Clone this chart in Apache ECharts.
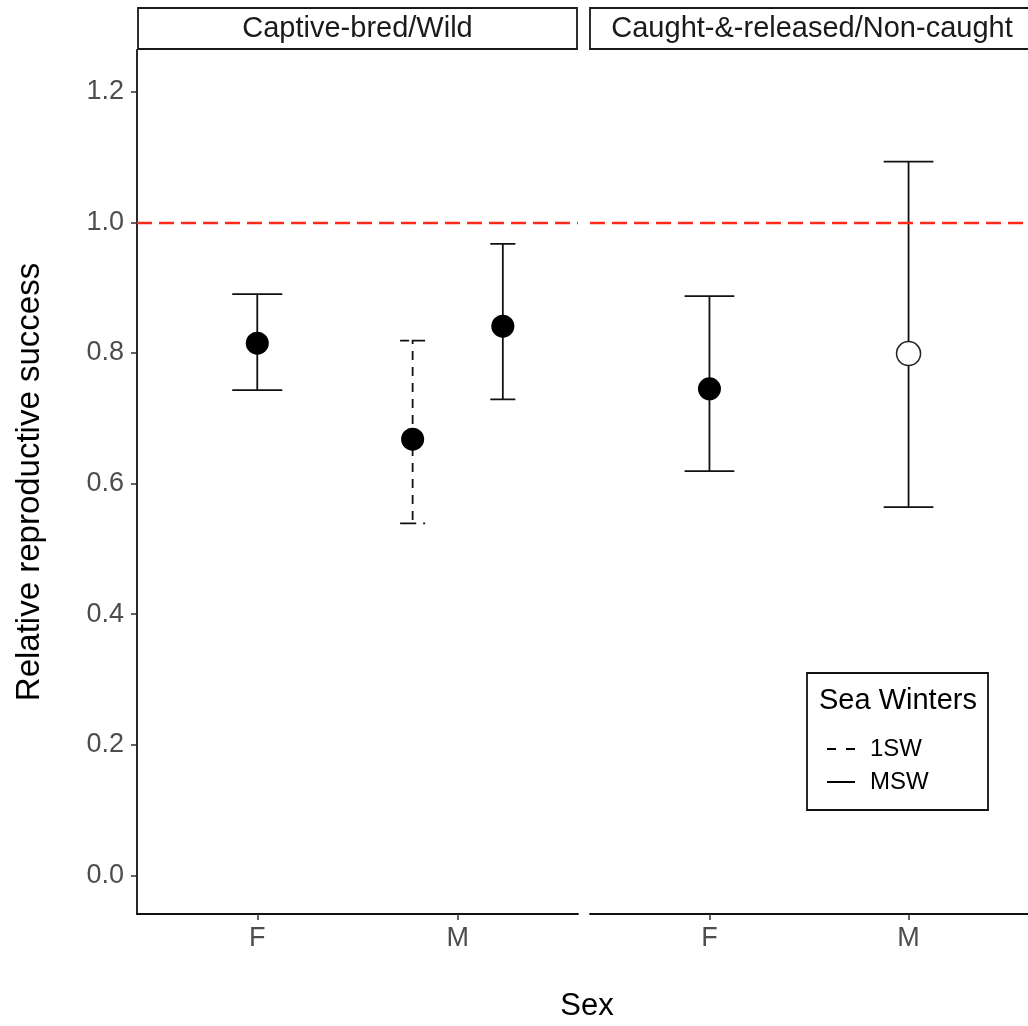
<!DOCTYPE html>
<html>
<head>
<meta charset="utf-8">
<script src="https://cdn.jsdelivr.net/npm/echarts@6/dist/echarts.min.js"></script>
<style>html,body{margin:0;padding:0;background:#fff}#c{width:1028px;height:1026px}</style>
</head>
<body>
<div id="c"></div>
<script>
// ---- data ----
const panels = ['Captive-bred/Wild', 'Caught-&-released/Non-caught'];
const sexes = ['F', 'M'];
const yTicks = [0, 0.2, 0.4, 0.6, 0.8, 1.0, 1.2];
const seaWinterLevels = ['1SW', 'MSW'];
const rowPanel = [0, 0, 0, 1, 1];
const rowSex = ['F', 'M', 'M', 'F', 'M'];
const rowSeaWinters = ['MSW', '1SW', 'MSW', 'MSW', 'MSW'];
const estimate = [0.815, 0.668, 0.841, 0.745, 0.799];
const lower = [0.743, 0.539, 0.729, 0.619, 0.564];
const upper = [0.890, 0.819, 0.967, 0.887, 1.093];
const filled = [true, true, true, true, false];
const referenceLine = 1.0;

// ---- layout helpers ----
const FONT = 'Liberation Sans, Arial, Helvetica, sans-serif';
const CAP = 0.25;
function rowsOf(p) { return estimate.map((_, i) => i).filter(i => rowPanel[i] === p); }
function dodgeX(i) {
  const base = sexes.indexOf(rowSex[i]) + 1;
  const groups = rowsOf(rowPanel[i]).filter(j => rowSex[j] === rowSex[i]).map(j => rowSeaWinters[j]);
  const n = groups.length;
  if (n < 2) return { x: base, w: CAP };
  const k = groups.indexOf(rowSeaWinters[i]);
  const width = 0.9;
  return { x: base - width / 2 + width / n * (k + 0.5), w: CAP / n };
}

function errRender(params, api) {
  const x = api.value(0), lo = api.value(1), hi = api.value(2), hw = api.value(3) / 2;
  const dashed = api.value(4) === 1;
  const a = api.coord([x - hw, hi]), b = api.coord([x + hw, hi]);
  const c = api.coord([x, hi]), d = api.coord([x, lo]);
  const e = api.coord([x - hw, lo]), f = api.coord([x + hw, lo]);
  return {
    type: 'polyline',
    shape: { points: [a, b, c, d, e, f] },
    style: { stroke: '#111', lineWidth: 1.8, fill: null, lineDash: dashed ? [9, 7] : null }
  };
}

const series = [];
panels.forEach((p, pi) => {
  series.push({
    type: 'line', xAxisIndex: pi, yAxisIndex: pi, data: [], z: 1, silent: true,
    markLine: { silent: true, symbol: 'none', label: { show: false }, animation: false,
      lineStyle: { color: '#FF2A1A', width: 2.4, type: [15, 7], opacity: 1 }, data: [{ yAxis: referenceLine }] }
  });
  seaWinterLevels.forEach(sw => {
    const idx = rowsOf(pi).filter(i => rowSeaWinters[i] === sw);
    if (!idx.length) return;
    series.push({
      type: 'custom', name: sw, xAxisIndex: pi, yAxisIndex: pi, z: 2,
      renderItem: errRender,
      dimensions: ['x', 'lo', 'hi', 'w', 'dash'],
      encode: { x: 0, y: [1, 2] },
      data: idx.map(i => { const d = dodgeX(i); return [d.x, lower[i], upper[i], d.w, sw === '1SW' ? 1 : 0]; })
    });
  });
  series.push({
    type: 'scatter', xAxisIndex: pi, yAxisIndex: pi, z: 3, symbol: 'circle',
    data: rowsOf(pi).map(i => ({
      value: [dodgeX(i).x, estimate[i]],
      symbolSize: filled[i] ? 23 : 24,
      itemStyle: filled[i] ? { color: '#000', opacity: 1 } : { color: '#fff', borderColor: '#222', borderWidth: 1.5, opacity: 1 }
    }))
  });
});

function xAxisCfg(i) {
  return {
    type: 'value', gridIndex: i, min: 0.4, max: 2.6,
    axisLine: { show: true, onZero: false, lineStyle: { color: '#111', width: 1.8 } },
    axisTick: { show: true, customValues: [1, 2], length: 6, lineStyle: { color: '#333', width: 1.5 } },
    axisLabel: { customValues: [1, 2], formatter: v => sexes[Math.round(v) - 1], color: '#4D4D4D', fontSize: 27, fontFamily: FONT, margin: 11 },
    splitLine: { show: false }
  };
}
function yAxisCfg(i) {
  const show = i === 0;
  return {
    type: 'value', gridIndex: i, min: -0.0593, max: 1.264,
    axisLine: { show: show, onZero: false, lineStyle: { color: '#111', width: 1.8 } },
    axisTick: { show: show, customValues: yTicks, length: 6, lineStyle: { color: '#333', width: 1.5 } },
    axisLabel: { show: show, customValues: yTicks, formatter: v => v.toFixed(1), color: '#4D4D4D', fontSize: 27, fontFamily: FONT, margin: 13 },
    splitLine: { show: false },
    name: show ? 'Relative reproductive success' : '',
    nameLocation: 'middle', nameGap: 91,
    nameTextStyle: { fontSize: 33, color: '#000', fontFamily: FONT }
  };
}

const graphic = [];
const stripX = [[138, 577], [590, 1034]];
panels.forEach((p, pi) => {
  graphic.push({ type: 'rect', z: 5, shape: { x: stripX[pi][0], y: 8, width: stripX[pi][1] - stripX[pi][0], height: 41 },
    style: { fill: '#fff', stroke: '#1a1a1a', lineWidth: 1.8 } });
  graphic.push({ type: 'text', z: 6, x: (stripX[pi][0] + stripX[pi][1]) / 2, y: 29,
    style: { text: p, fontSize: 29, fontFamily: FONT, fill: '#1a1a1a', align: 'center', verticalAlign: 'middle' } });
});
graphic.push({ type: 'text', z: 6, x: 587, y: 1006,
  style: { text: 'Sex', fontSize: 31, fontFamily: FONT, fill: '#000', align: 'center', verticalAlign: 'middle' } });
graphic.push({ type: 'rect', z: 0, shape: { x: 807, y: 673, width: 181, height: 137 },
  style: { fill: '#fff', stroke: '#111', lineWidth: 1.8 } });
graphic.push({ type: 'text', z: 6, x: 819, y: 701,
  style: { text: 'Sea Winters', fontSize: 29, fontFamily: FONT, fill: '#000', align: 'left', verticalAlign: 'middle' } });

const option = {
  animation: false,
  backgroundColor: '#fff',
  grid: [
    { left: 137, top: 50, width: 441, height: 864 },
    { left: 590, top: 50, width: 441, height: 864 }
  ],
  xAxis: [xAxisCfg(0), xAxisCfg(1)],
  yAxis: [yAxisCfg(0), yAxisCfg(1)],
  legend: {
    orient: 'vertical', left: 822, top: 732, itemWidth: 28, itemHeight: 2, itemGap: 9,
    selectedMode: false, z: 10,
    textStyle: { fontSize: 24, color: '#000', fontFamily: FONT, padding: [0, 0, 0, 10] },
    data: [
      { name: '1SW', icon: 'path://M0,0h9v2h-9zM19,0h9v2h-9z', itemStyle: { color: '#000' } },
      { name: 'MSW', icon: 'rect', itemStyle: { color: '#000' } }
    ]
  },
  graphic: graphic,
  series: series
};
const chart = echarts.init(document.getElementById('c'), null, { renderer: 'canvas' });
chart.setOption(option);
</script>
</body>
</html>
